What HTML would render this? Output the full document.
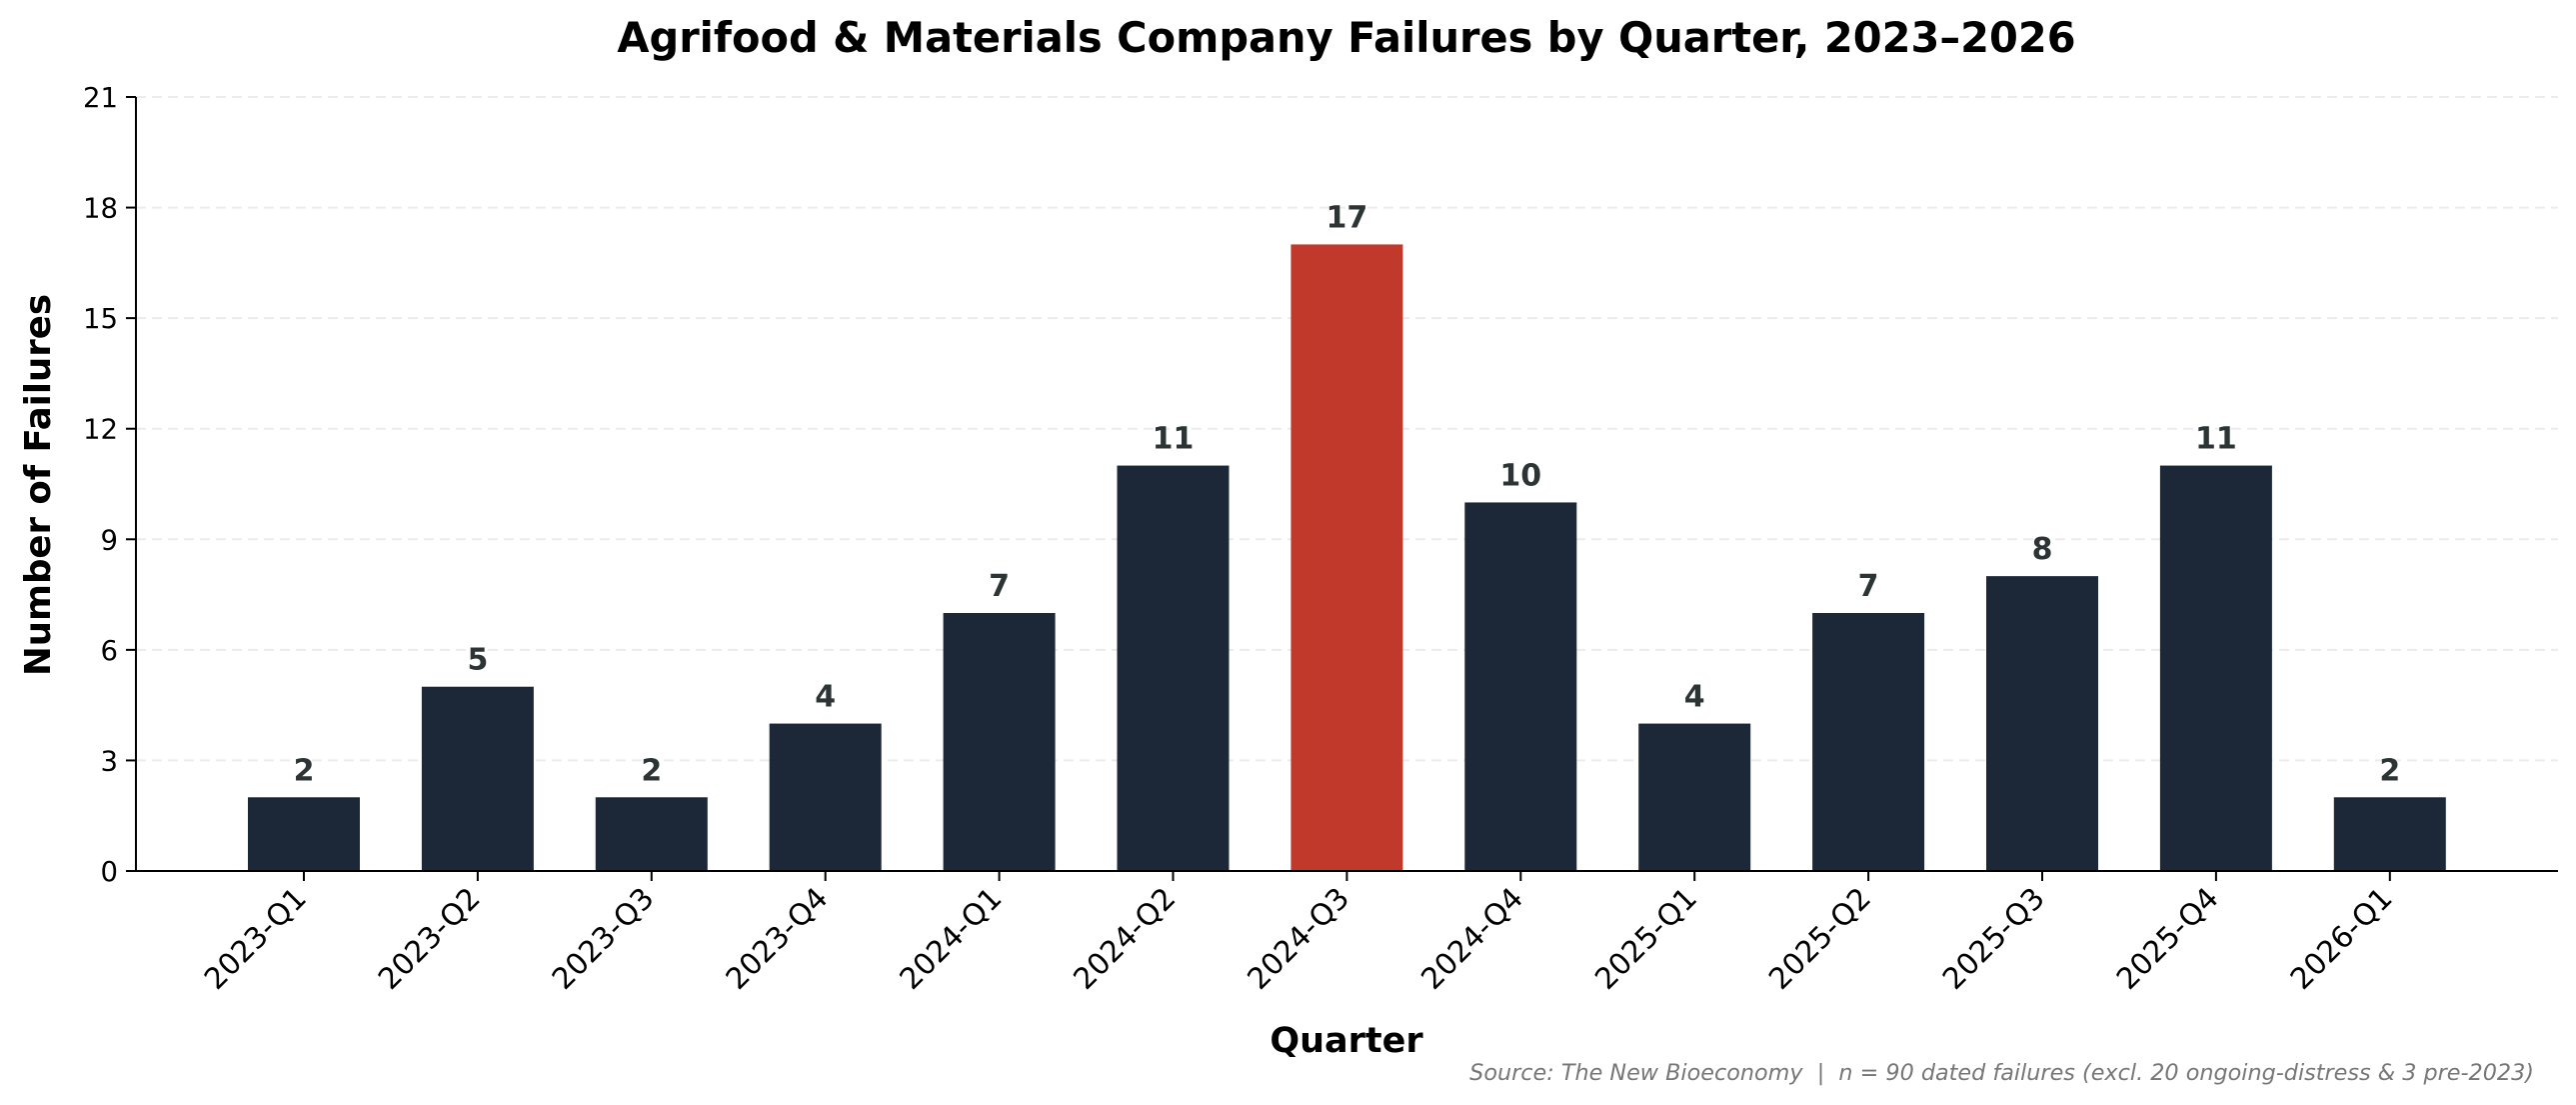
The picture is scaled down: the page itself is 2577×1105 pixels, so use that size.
<!DOCTYPE html>
<html><head><meta charset="utf-8"><style>
html,body{margin:0;padding:0;background:#fff;}
svg{display:block;font-family:"DejaVu Sans","Liberation Sans",sans-serif;}
</style></head><body>
<svg id="chart" width="2577" height="1105" viewBox="0 0 2577 1105">
<text x="1347" y="52" text-anchor="middle" font-size="41.5" font-weight="bold" fill="#000">Agrifood &amp; Materials Company Failures by Quarter, 2023–2026</text>
<g id="grid"></g><g id="bars"></g><g id="axes"></g>
<text transform="translate(50,485) rotate(-90)" text-anchor="middle" font-size="35.5" font-weight="bold" fill="#000">Number of Failures</text>
<text x="1347" y="1052" text-anchor="middle" font-size="35" font-weight="bold" fill="#000">Quarter</text>
<text x="2535" y="1080" text-anchor="end" font-size="22.3" font-style="italic" fill="#777" style="white-space:pre">Source: The New Bioeconomy  |  n = 90 dated failures (excl. 20 ongoing-distress &amp; 3 pre-2023)</text>
</svg>
<script>
const categories=["2023-Q1","2023-Q2","2023-Q3","2023-Q4","2024-Q1","2024-Q2","2024-Q3","2024-Q4","2025-Q1","2025-Q2","2025-Q3","2025-Q4","2026-Q1"];
const failures=[2,5,2,4,7,11,17,10,4,7,8,11,2];
const yTicks=[0,3,6,9,12,15,18,21];
const highlightCategory="2024-Q3";

const NS="http://www.w3.org/2000/svg";
const X0=136,X1=2559,Y0=871,Ytop=97,YMAX=21;
const firstC=304,step=173.9,barW=112;
function xScale(i){return firstC+i*step;}
function yScale(v){return Y0-(v/YMAX)*(Y0-Ytop);}
function mk(tag,attrs,parent){const e=document.createElementNS(NS,tag);for(const k in attrs)e.setAttribute(k,attrs[k]);parent.appendChild(e);return e;}
const grid=document.getElementById('grid'),bars=document.getElementById('bars'),axes=document.getElementById('axes');
yTicks.forEach(t=>{
  const y=yScale(t);
  if(t>0){const g=mk('line',{x1:X0,x2:X1,y1:y,y2:y,stroke:'#ececec','stroke-width':2,'stroke-dasharray':'10,6'},grid);
  
  }
  const tk=mk('line',{x1:X0-10,x2:X0,y1:y,y2:y,stroke:'#000','stroke-width':2},axes);
  
  
  const tl=mk('text',{x:X0-18,y:y+10,'text-anchor':'end','font-size':27.5,fill:'#000'},axes);
  tl.textContent=t;
  
  
});
categories.forEach((c,i)=>{
  const v=failures[i],cx=xScale(i),y=yScale(v);
  const r=mk('rect',{x:cx-barW/2,y:y,width:barW,height:Y0-y,fill:c===highlightCategory?'#c0392b':'#1c2838'},bars);
  
  
  const vl=mk('text',{x:cx,y:y-17,'text-anchor':'middle','font-size':30,'font-weight':'bold',fill:'#2d3436'},bars);
  vl.textContent=v;
  
  
  const tk=mk('line',{x1:cx,x2:cx,y1:Y0,y2:Y0+10,stroke:'#000','stroke-width':2},axes);
  
  
  const tl=mk('text',{x:0,y:0,'text-anchor':'end','font-size':29.5,fill:'#000',transform:`translate(${cx+4},${Y0+29}) rotate(-45)`},axes);
  tl.textContent=c;
  
  
});
const ya=mk('line',{x1:X0,x2:X0,y1:Ytop,y2:Y0,stroke:'#000','stroke-width':2},axes);


const xa=mk('line',{x1:X0,x2:X1,y1:Y0,y2:Y0,stroke:'#000','stroke-width':2},axes);


</script>
</body></html>
